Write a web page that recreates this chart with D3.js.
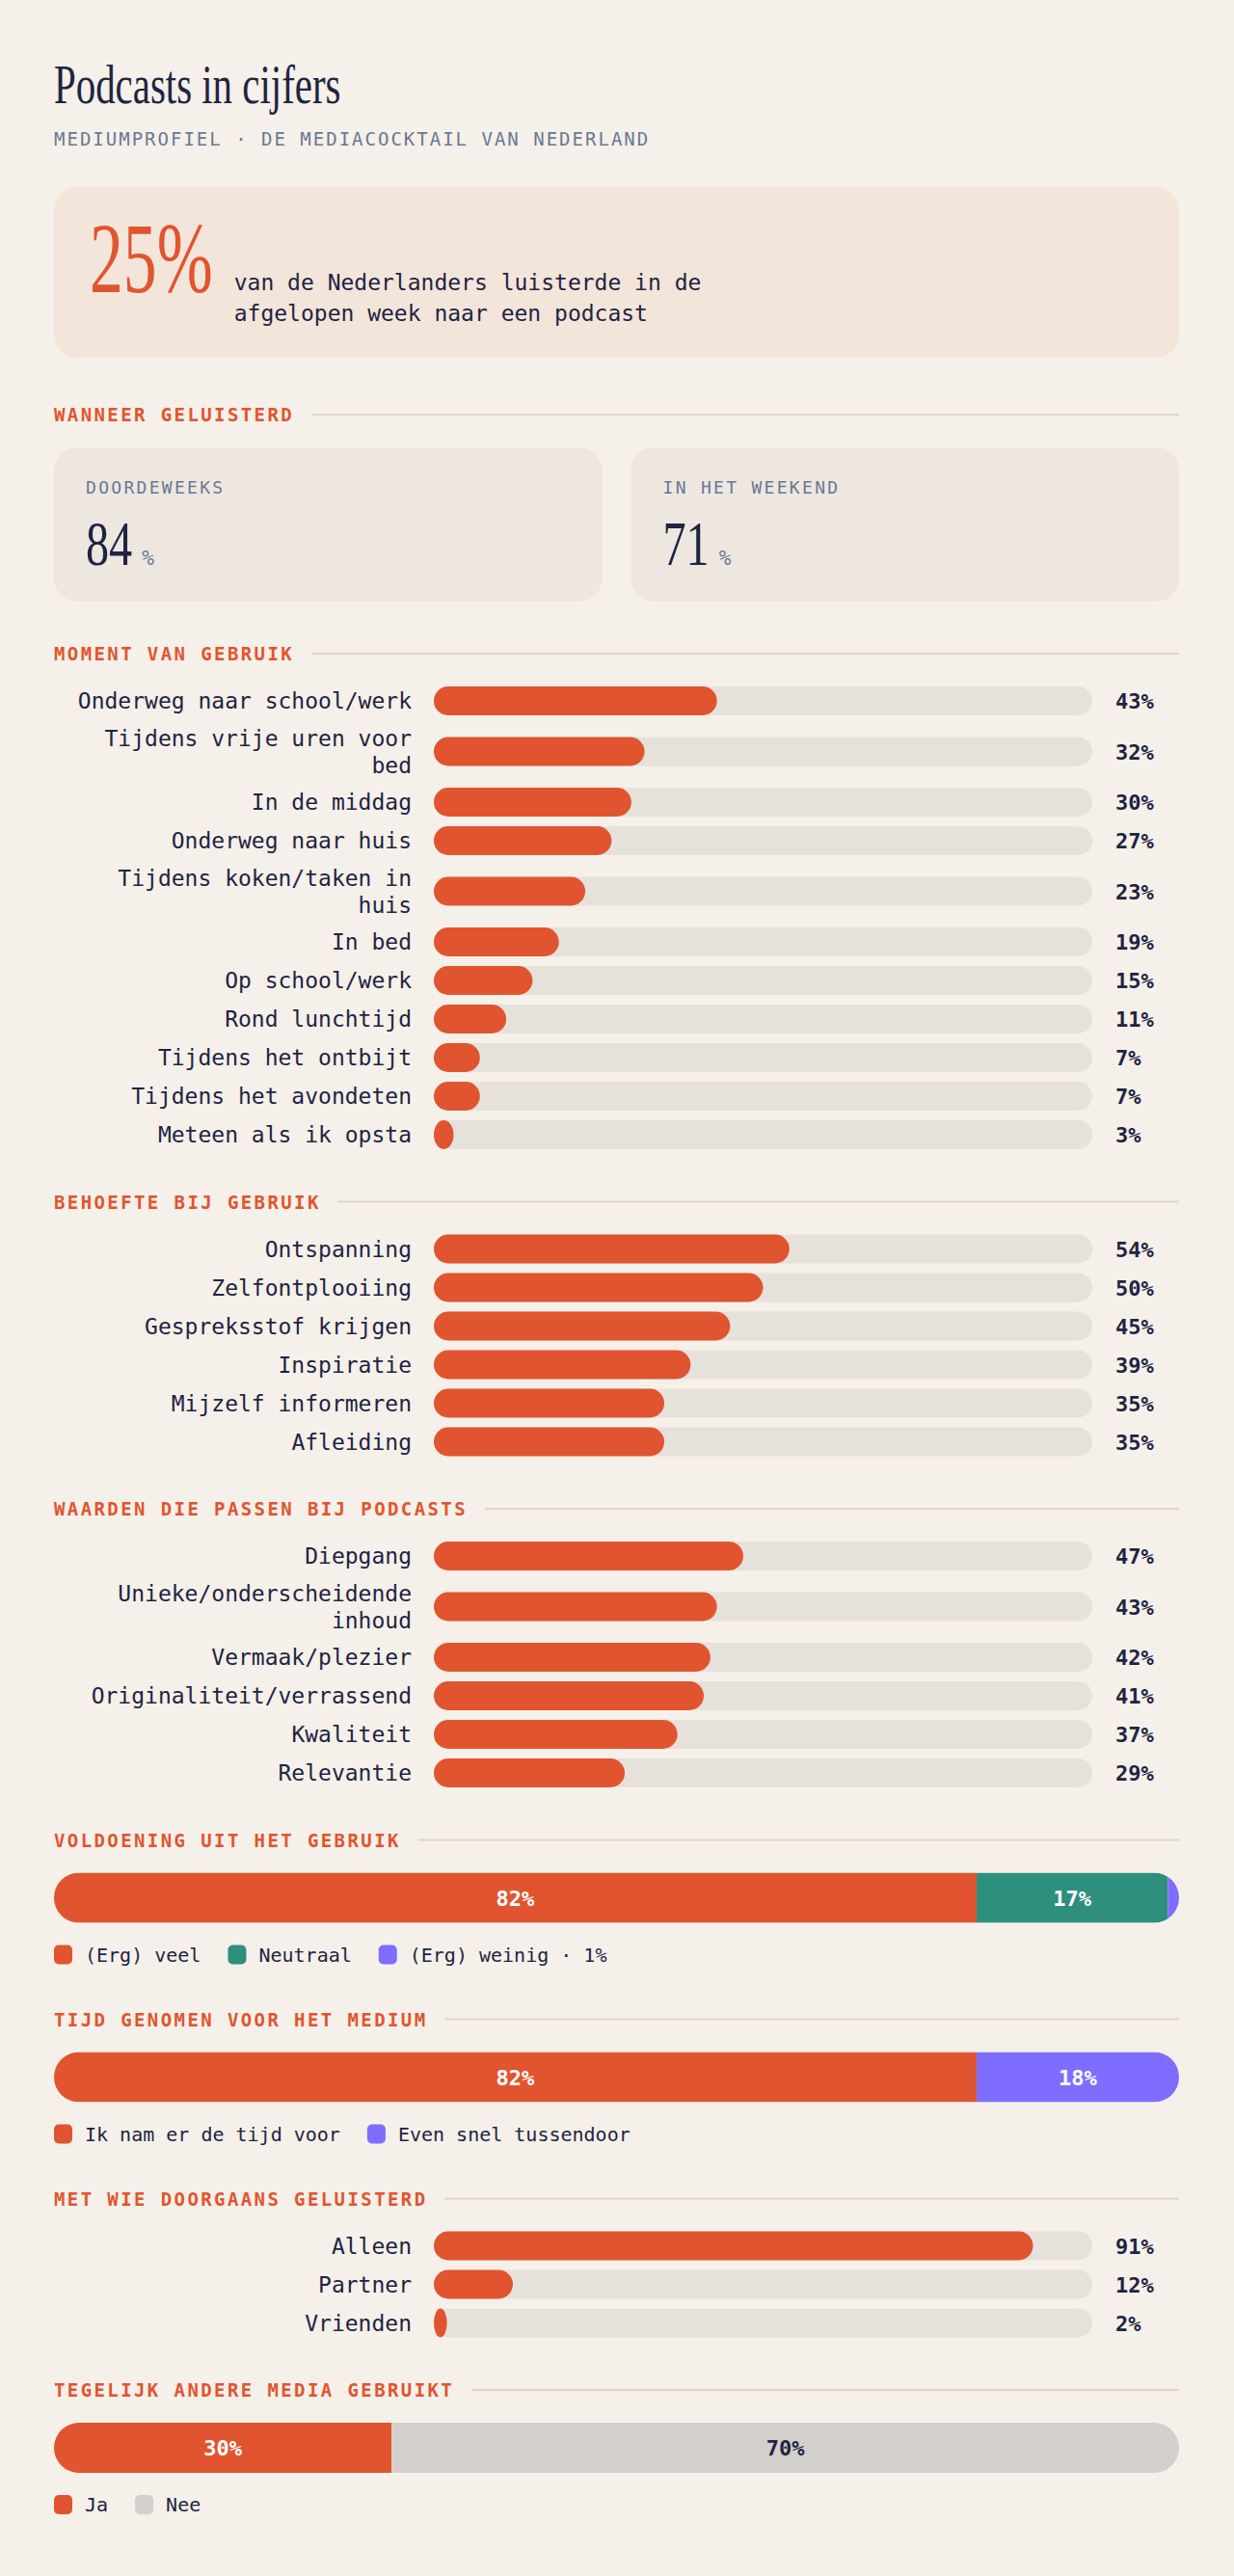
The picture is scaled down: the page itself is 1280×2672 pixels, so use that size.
<!DOCTYPE html>
<html><head><meta charset="utf-8">
<script src="https://cdn.jsdelivr.net/npm/d3@7"></script>
<style>html,body{margin:0;padding:0;background:#f5f0e9;} svg{display:block;}</style>
</head><body><svg id="c" width="1280" height="2672"></svg>
<script>
// ---------- DATA ----------
const titleText = "Podcasts in cijfers";
const subtitleText = "MEDIUMPROFIEL · DE MEDIACOCKTAIL VAN NEDERLAND";
const headlineValue = 25;
const headlineLines = ["van de Nederlanders luisterde in de", "afgelopen week naar een podcast"];

const wanneerTitle = "WANNEER GELUISTERD";
const wanneerLabels = ["DOORDEWEEKS", "IN HET WEEKEND"];
const wanneerValues = [84, 71];

const momentTitle = "MOMENT VAN GEBRUIK";
const momentLabels = ["Onderweg naar school/werk", "Tijdens vrije uren voor bed", "In de middag", "Onderweg naar huis",
  "Tijdens koken/taken in huis", "In bed", "Op school/werk", "Rond lunchtijd", "Tijdens het ontbijt",
  "Tijdens het avondeten", "Meteen als ik opsta"];
const momentValues = [43, 32, 30, 27, 23, 19, 15, 11, 7, 7, 3];

const behoefteTitle = "BEHOEFTE BIJ GEBRUIK";
const behoefteLabels = ["Ontspanning", "Zelfontplooiing", "Gespreksstof krijgen", "Inspiratie", "Mijzelf informeren", "Afleiding"];
const behoefteValues = [54, 50, 45, 39, 35, 35];

const waardenTitle = "WAARDEN DIE PASSEN BIJ PODCASTS";
const waardenLabels = ["Diepgang", "Unieke/onderscheidende inhoud", "Vermaak/plezier", "Originaliteit/verrassend", "Kwaliteit", "Relevantie"];
const waardenValues = [47, 43, 42, 41, 37, 29];

const voldoeningTitle = "VOLDOENING UIT HET GEBRUIK";
const voldoeningLabels = ["(Erg) veel", "Neutraal", "(Erg) weinig"];
const voldoeningValues = [82, 17, 1];

const tijdTitle = "TIJD GENOMEN VOOR HET MEDIUM";
const tijdLabels = ["Ik nam er de tijd voor", "Even snel tussendoor"];
const tijdValues = [82, 18];

const metWieTitle = "MET WIE DOORGAANS GELUISTERD";
const metWieLabels = ["Alleen", "Partner", "Vrienden"];
const metWieValues = [91, 12, 2];

const tegelijkTitle = "TEGELIJK ANDERE MEDIA GEBRUIKT";
const tegelijkLabels = ["Ja", "Nee"];
const tegelijkValues = [30, 70];

// ---------- STYLE ----------
const C = {
  bg: "#f5f0e9", hl: "#f3e5da", card: "#ede7e0", track: "#e6e2db",
  orange: "#e0552f", teal: "#2e8f7d", purple: "#7f6dff", grey: "#d3d0cb",
  navy: "#1e2443", greyblue: "#6a7893", rule: "#dcd6ce", white: "#ffffff"
};
const MONO = "'DejaVu Sans Mono', monospace";
const SERIF = "'Liberation Serif', 'DejaVu Serif', serif";
const W = 1280, H = 2672, L = 56, R = 1223;

const svg = d3.select("#c");
svg.append("rect").attr("width", W).attr("height", H).attr("fill", C.bg);

// condensed serif display text: horizontally scaled group
function condensedText(x, y, size, fill, txt, f) {
  const g = svg.append("g").attr("transform", `translate(${x},${y}) scale(${f},1)`);
  const t = g.append("text").attr("x", 0).attr("y", 0).attr("font-family", SERIF)
    .attr("font-size", size).attr("fill", fill).text(txt);
  return t.node().getComputedTextLength() * f;
}

// Title
condensedText(L, 107, 56, C.navy, titleText, 0.73);
svg.append("text").attr("x", L).attr("y", 151).attr("font-family", MONO).attr("font-size", 19)
  .attr("letter-spacing", 2).attr("fill", C.greyblue).text(subtitleText);

// Highlight
svg.append("rect").attr("x", L).attr("y", 194).attr("width", R - L).attr("height", 177).attr("rx", 24).attr("fill", C.hl);
const bigW = condensedText(93, 303, 104, C.orange, headlineValue + "%", 0.67);
headlineLines.forEach((ln, i) => {
  svg.append("text").attr("x", 93 + bigW + 22).attr("y", 301 + i * 32).attr("font-family", MONO)
    .attr("font-size", 23).attr("fill", C.navy).text(ln);
});

// Section header
function header(y, label) {
  const t = svg.append("text").attr("x", L).attr("y", y + 7).attr("font-family", MONO).attr("font-size", 19)
    .attr("font-weight", "bold").attr("letter-spacing", 2.4).attr("fill", C.orange).text(label);
  const w = t.node().getBBox().width;
  svg.append("line").attr("x1", L + w + 18).attr("x2", R).attr("y1", y).attr("y2", y)
    .attr("stroke", C.rule).attr("stroke-width", 2);
}

// Wanneer cards
header(430, wanneerTitle);
const cardX = d3.scaleBand().domain(wanneerLabels).range([L, R + 30]).paddingInner(0);
wanneerLabels.forEach((lab, i) => {
  const x0 = cardX(lab), cw = cardX.bandwidth() - 30;
  svg.append("rect").attr("x", x0).attr("y", 464).attr("width", cw).attr("height", 160).attr("rx", 24).attr("fill", C.card);
  svg.append("text").attr("x", x0 + 33).attr("y", 512).attr("font-family", MONO).attr("font-size", 18)
    .attr("letter-spacing", 2.3).attr("fill", C.greyblue).text(lab);
  const nw = condensedText(x0 + 33, 586, 66, C.navy, String(wanneerValues[i]), 0.73);
  svg.append("text").attr("x", x0 + 33 + nw + 10).attr("y", 586).attr("font-family", MONO).attr("font-size", 21)
    .attr("fill", C.greyblue).text("%");
});

// Bar sections
const xBar = d3.scaleLinear().domain([0, 100]).range([450, 1133]);
const measurer = svg.append("text").attr("font-family", MONO).attr("font-size", 23).attr("visibility", "hidden");
function wrap(label, maxW) {
  const words = label.split(" ");
  const lines = [];
  let cur = "";
  words.forEach(w => {
    const test = cur ? cur + " " + w : w;
    measurer.text(test);
    if (measurer.node().getComputedTextLength() > maxW && cur) { lines.push(cur); cur = w; }
    else cur = test;
  });
  lines.push(cur);
  return lines;
}
function barSection(hy, title, labels, values) {
  header(hy, title);
  let top = hy + 29;
  labels.forEach((lab, i) => {
    const lines = wrap(lab, 360);
    const h = 40 + (lines.length - 1) * 25;
    const cy = top + h / 2;
    const g = svg.append("g");
    g.append("rect").attr("x", xBar(0)).attr("y", cy - 15).attr("width", xBar(100) - xBar(0)).attr("height", 30)
      .attr("rx", 15).attr("fill", C.track);
    const bw = xBar(values[i]) - xBar(0);
    g.append("rect").attr("x", xBar(0)).attr("y", cy - 15).attr("width", bw).attr("height", 30)
      .attr("rx", Math.min(15, bw / 2)).attr("ry", 15).attr("fill", C.orange);
    lines.forEach((ln, j) => {
      g.append("text").attr("x", 427).attr("y", cy + 8 + (j - (lines.length - 1) / 2) * 28)
        .attr("text-anchor", "end").attr("font-family", MONO).attr("font-size", 23).attr("fill", C.navy).text(ln);
    });
    g.append("text").attr("x", 1157).attr("y", cy + 8).attr("font-family", MONO).attr("font-size", 22)
      .attr("font-weight", "bold").attr("fill", C.navy).text(values[i] + "%");
    top += h;
  });
  return top + 49.5;
}

// Stacked sections
const xStack = d3.scaleLinear().domain([0, 100]).range([L, R]);
let clipId = 0;
function stackSection(hy, title, labels, values, colors, textColors) {
  header(hy, title);
  const by = hy + 34, bh = 52;
  const id = "clip" + (clipId++);
  svg.append("clipPath").attr("id", id).append("rect").attr("x", xStack(0)).attr("y", by)
    .attr("width", xStack(100) - xStack(0)).attr("height", bh).attr("rx", 26);
  const g = svg.append("g").attr("clip-path", `url(#${id})`);
  const ends = d3.cumsum(values);
  values.forEach((v, i) => {
    const s = ends[i] - v;
    g.append("rect").attr("x", xStack(s)).attr("y", by).attr("width", xStack(ends[i]) - xStack(s)).attr("height", bh)
      .attr("fill", colors[i]);
    if (v >= 5) {
      svg.append("text").attr("x", (xStack(s) + xStack(ends[i])) / 2).attr("y", by + bh / 2 + 8)
        .attr("text-anchor", "middle").attr("font-family", MONO).attr("font-size", 22).attr("font-weight", "bold")
        .attr("fill", textColors[i]).text(v + "%");
    }
  });
  const ly = by + bh + 33;
  let lx = L;
  labels.forEach((lab, i) => {
    svg.append("rect").attr("x", lx).attr("y", ly - 10).attr("width", 19).attr("height", 20).attr("rx", 5).attr("fill", colors[i]);
    const txt = values[i] < 5 ? lab + " · " + values[i] + "%" : lab;
    const t = svg.append("text").attr("x", lx + 32).attr("y", ly + 7).attr("font-family", MONO).attr("font-size", 20)
      .attr("fill", C.navy).text(txt);
    lx = lx + 32 + t.node().getComputedTextLength() + 28;
  });
  return ly + 67;
}

let y = 678;
y = barSection(y, momentTitle, momentLabels, momentValues);
y = barSection(y, behoefteTitle, behoefteLabels, behoefteValues);
y = barSection(y, waardenTitle, waardenLabels, waardenValues);
y = stackSection(y, voldoeningTitle, voldoeningLabels, voldoeningValues, [C.orange, C.teal, C.purple], [C.white, C.white, C.white]);
y = stackSection(y, tijdTitle, tijdLabels, tijdValues, [C.orange, C.purple], [C.white, C.white]);
y = barSection(y, metWieTitle, metWieLabels, metWieValues);
y = stackSection(y, tegelijkTitle, tegelijkLabels, tegelijkValues, [C.orange, C.grey], [C.white, C.navy]);
measurer.remove();
</script></body></html>
